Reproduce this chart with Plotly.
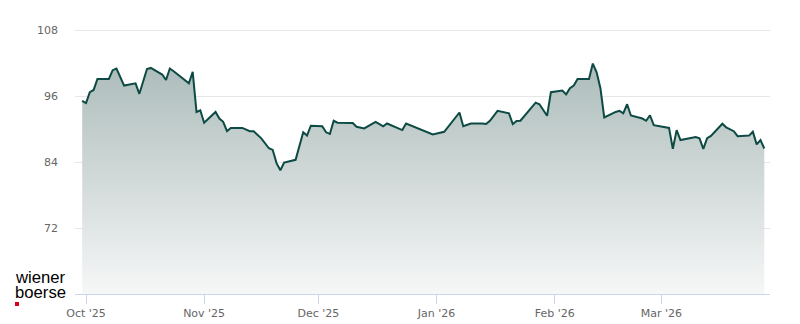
import plotly.graph_objects as go

# Data
dates = [
    "2025-09-30", "2025-10-01", "2025-10-02", "2025-10-03", "2025-10-04", "2025-10-07",
    "2025-10-08", "2025-10-09", "2025-10-11", "2025-10-14", "2025-10-15", "2025-10-17",
    "2025-10-18", "2025-10-21", "2025-10-22", "2025-10-23", "2025-10-24", "2025-10-28",
    "2025-10-29", "2025-10-30", "2025-10-31", "2025-11-01", "2025-11-04", "2025-11-05",
    "2025-11-06", "2025-11-07", "2025-11-08", "2025-11-11", "2025-11-13", "2025-11-14",
    "2025-11-16", "2025-11-18", "2025-11-19", "2025-11-20", "2025-11-21", "2025-11-22",
    "2025-11-25", "2025-11-27", "2025-11-28", "2025-11-29", "2025-12-02", "2025-12-03",
    "2025-12-04", "2025-12-05", "2025-12-06", "2025-12-10", "2025-12-11", "2025-12-13",
    "2025-12-16", "2025-12-18", "2025-12-19", "2025-12-23", "2025-12-24", "2025-12-31",
    "2026-01-03", "2026-01-07", "2026-01-08", "2026-01-10", "2026-01-13", "2026-01-14",
    "2026-01-15", "2026-01-17", "2026-01-20", "2026-01-21", "2026-01-22", "2026-01-23",
    "2026-01-27", "2026-01-28", "2026-01-30", "2026-01-31", "2026-02-03", "2026-02-04",
    "2026-02-05", "2026-02-06", "2026-02-07", "2026-02-10", "2026-02-11", "2026-02-12",
    "2026-02-13", "2026-02-14", "2026-02-17", "2026-02-18", "2026-02-19", "2026-02-20",
    "2026-02-21", "2026-02-24", "2026-02-25", "2026-02-26", "2026-02-27", "2026-03-03",
    "2026-03-04", "2026-03-05", "2026-03-06", "2026-03-10", "2026-03-11", "2026-03-12",
    "2026-03-13", "2026-03-14", "2026-03-17", "2026-03-18", "2026-03-20", "2026-03-21",
    "2026-03-24", "2026-03-25", "2026-03-26", "2026-03-27", "2026-03-28",
]
prices = [
    95.1, 94.7, 96.7, 97.1, 99.1, 99.1,
    100.7, 101.0, 97.9, 98.3, 96.4, 100.9,
    101.1, 99.9, 98.9, 101.0, 100.5, 98.3,
    100.4, 93.1, 93.4, 91.15, 93.1, 91.9,
    91.3, 89.6, 90.2, 90.2, 89.6, 89.6,
    88.3, 86.5, 86.2, 83.8, 82.5, 83.9,
    84.4, 89.4, 88.8, 90.6, 90.5, 89.4,
    89.1, 91.5, 91.15, 91.1, 90.4, 90.1,
    91.3, 90.5, 91.0, 89.8, 91.0, 89.0,
    89.5, 93.0, 90.5, 91.0, 91.0, 90.9,
    91.5, 93.3, 92.85, 90.9, 91.45, 91.5,
    94.8, 94.5, 92.4, 96.7, 97.0, 96.3,
    97.4, 97.9, 99.1, 99.1, 101.9, 100.3,
    97.4, 92.1, 93.1, 93.3, 92.85, 94.5,
    92.45, 91.9, 91.5, 92.5, 90.7, 90.2,
    86.4, 89.8, 88.0, 88.55, 88.3, 86.4,
    88.35, 88.75, 90.95, 90.3, 89.6, 88.7,
    88.8, 89.5, 87.2, 88.0, 86.45,
]
y_ticks = [72, 84, 96, 108]
y_range = [60, 110]
x_range = ["2025-09-28 02:40", "2026-03-29 12:00"]

L, R, T, B = 75, 30, 19, 30
W, H = 800, 324
pw, ph = W - L - R, H - T - B


def px_x(p):
    return (p - L) / pw


def px_y(p):
    return (H - B - p) / ph


fig = go.Figure()
fig.add_trace(go.Scatter(
    x=[dates[0], dates[-1]], y=[y_range[0], y_range[0]],
    mode="lines", line=dict(width=0), hoverinfo="skip", showlegend=False,
))
fig.add_trace(go.Scatter(
    x=dates, y=prices, mode="lines",
    line=dict(color="#0d4a44", width=2),
    fill="tonexty",
    fillgradient=dict(
        type="vertical",
        colorscale=[[0, "rgb(246,247,247)"], [1, "rgb(172,188,186)"]],
        start=60, stop=102,
    ),
    showlegend=False,
))

fig.update_layout(
    width=W, height=H,
    margin=dict(l=L, r=R, t=T, b=B, autoexpand=False),
    plot_bgcolor="white", paper_bgcolor="white",
    font=dict(family="DejaVu Sans", size=11, color="#666666"),
    xaxis=dict(
        type="date", range=x_range, automargin=False,
        tick0="2025-10-01", dtick="M1", tickformat="%b '%y",
        showgrid=False, showline=True, linecolor="#ccd6eb", linewidth=1,
        ticks="outside", ticklen=9, tickcolor="#ccd6eb", tickwidth=1,
        tickfont=dict(size=11, color="#666666"),
        zeroline=False,
    ),
    yaxis=dict(
        range=y_range, tickvals=y_ticks, automargin=False,
        showgrid=True, gridcolor="#e6e6e6", gridwidth=1,
        zeroline=False, showline=False, ticks="",
        ticklabelstandoff=16,
        tickfont=dict(size=11, color="#666666"),
    ),
    annotations=[
        dict(text="wiener", x=px_x(13), y=px_y(277), xref="paper", yref="paper",
             xanchor="left", yanchor="middle", showarrow=False,
             font=dict(family="Liberation Sans", size=16.7, color="#000000")),
        dict(text="boerse", x=px_x(13), y=px_y(292), xref="paper", yref="paper",
             xanchor="left", yanchor="middle", showarrow=False,
             font=dict(family="Liberation Sans", size=16.7, color="#000000")),
    ],
    shapes=[
        dict(type="rect", xref="paper", yref="paper",
             x0=px_x(15), x1=px_x(19), y0=px_y(302), y1=px_y(306),
             fillcolor="#d6001c", line=dict(width=0)),
    ],
)

fig.write_html("out.html")
